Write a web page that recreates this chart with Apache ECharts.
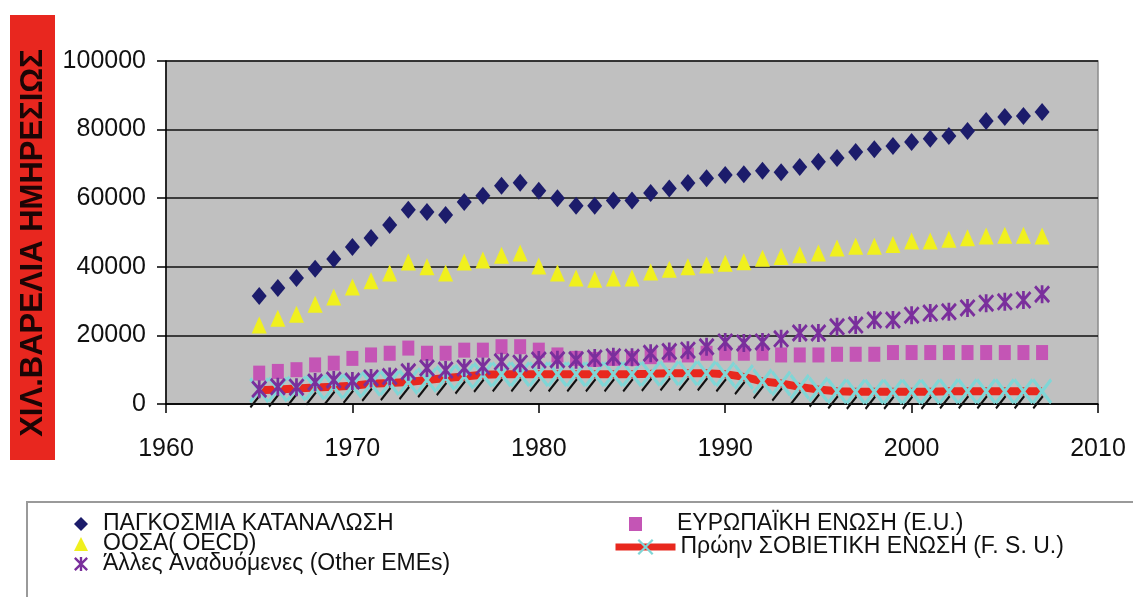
<!DOCTYPE html>
<html>
<head>
<meta charset="utf-8">
<script src="https://cdn.jsdelivr.net/npm/echarts@6/dist/echarts.min.js"></script>
<style>html,body{margin:0;padding:0;background:#fff;}#c{width:1133px;height:597px;}</style>
</head>
<body>
<div id="c"></div>
<script>
const years = [1965,1966,1967,1968,1969,1970,1971,1972,1973,1974,1975,1976,1977,1978,1979,1980,1981,1982,1983,1984,1985,1986,1987,1988,1989,1990,1991,1992,1993,1994,1995,1996,1997,1998,1999,2000,2001,2002,2003,2004,2005,2006,2007];
const world = [31500,33800,36700,39400,42300,45800,48400,52200,56600,56000,55100,58900,60700,63600,64500,62200,60000,57800,57800,59300,59300,61500,62800,64400,65800,66800,67000,68000,67600,69100,70600,71700,73500,74300,75200,76400,77300,78100,79600,82500,83700,84000,85100];
const oecd = [23000,25000,26200,29100,31200,34100,35900,38200,41400,40000,38200,41400,42000,43400,44000,40200,38200,36700,36400,36700,36700,38500,39300,40000,40500,41000,41500,42500,43000,43500,44000,45500,46000,46000,46500,47500,47500,48000,48500,49000,49200,49200,49000];
const emes = [4300,5000,4900,6400,7000,6700,7600,8000,9400,10500,9900,10500,10900,12300,11900,12800,12900,12900,13400,13800,13600,14800,15300,15700,16700,18100,17800,18100,19000,20700,20700,22500,23000,24500,24500,25900,26500,26900,28000,29400,29800,30300,32000];
const eu = [9000,9500,10000,11400,11900,13300,14300,14800,16300,14800,14800,15700,15700,16700,16700,15700,14300,13300,13000,13300,13300,13800,14300,14300,14800,14800,14800,14800,14300,14300,14300,14500,14500,14500,15000,15000,15000,15000,15000,15000,15000,15000,15000];
const fsu = [4000,4200,4500,4800,5000,5300,5900,6100,6400,7000,7600,8000,8500,8700,8700,8700,8700,8700,8700,8700,8700,8800,9000,9000,9000,8700,7900,6600,6000,5000,4200,3700,3600,3600,3600,3600,3600,3700,3700,3700,3700,3700,3700];
const xTicks = [1960,1970,1980,1990,2000,2010];
const yTicks = [0,20000,40000,60000,80000,100000];
const names = ['ΠΑΓΚΟΣΜΙΑ ΚΑΤΑΝΑΛΩΣΗ','ΟΟΣΑ( OECD)','Άλλες Αναδυόμενες (Other EMEs)','ΕΥΡΩΠΑΪΚΗ ΕΝΩΣΗ (E.U.)','Πρώην ΣΟΒΙΕΤΙΚΗ ΕΝΩΣΗ (F. S. U.)'];
const yTitle = 'ΧΙΛ.ΒΑΡΕΛΙΑ ΗΜΗΡΕΣΙΩΣ';

const pair = a => years.map((y,i)=>[y,a[i]]);
const FONT = '"Liberation Sans", Arial, sans-serif';
const ASTER = 'path://M8.3,0 L11.7,0 L11.7,20 L8.3,20 Z M0,2.4 L2.4,0 L20,17.6 L17.6,20 Z M17.6,0 L20,2.4 L2.4,20 L0,17.6 Z';
const XMARK = 'path://M0,2 L2,0 L20,18 L18,20 Z M18,0 L20,2 L2,20 L0,18 Z';
const SLASH = 'path://M0,17.5 L2.5,20 L20,2.5 L17.5,0 Z';

const chart = echarts.init(document.getElementById('c'), null, {renderer:'canvas'});
chart.setOption({
  animation:false,
  backgroundColor:'#ffffff',
  grid:{left:166,right:35,top:61,bottom:193,show:true,backgroundColor:'#c0c0c0',borderColor:'#8a8a8a',borderWidth:1.5},
  xAxis:{type:'value',min:xTicks[0],max:xTicks[xTicks.length-1],interval:10,
    axisLine:{show:true,onZero:false,lineStyle:{color:'#000',width:1.5}},
    axisTick:{show:true,length:9,lineStyle:{color:'#000',width:1.5}},
    splitLine:{show:false},
    axisLabel:{margin:33,fontSize:25,fontFamily:FONT,color:'#111',formatter:v=>String(v)}},
  yAxis:{type:'value',min:yTicks[0],max:yTicks[yTicks.length-1],interval:20000,
    axisLine:{show:true,lineStyle:{color:'#000',width:1.5}},
    axisTick:{show:true,length:9,lineStyle:{color:'#000',width:1.5}},
    splitLine:{show:true,lineStyle:{color:'#111',width:1.5}},
    axisLabel:{margin:20,fontSize:25,fontFamily:FONT,color:'#111',formatter:v=>String(v)}},
  legend:[
    {data:[names[0],names[1],names[2]],orient:'vertical',left:69,top:503,itemWidth:14,itemHeight:14,itemGap:-12,
     textStyle:{fontSize:23,fontFamily:FONT,color:'#111',lineHeight:20,padding:[0,0,12,10]}},
    {data:[names[3]],orient:'vertical',left:624,top:503,itemWidth:13,itemHeight:14,itemGap:0,
     textStyle:{fontSize:23,fontFamily:FONT,color:'#111',lineHeight:20,padding:[0,0,12,30]}},
    {data:[names[4]],orient:'vertical',left:607,top:524,itemWidth:60,itemHeight:20,itemGap:0,
     lineStyle:{width:7,color:'#e8281e'},
     textStyle:{fontSize:23,fontFamily:FONT,color:'#111',lineHeight:20,padding:[0,0,16,0]}}
  ],
  graphic:[
    {type:'rect',left:10,top:15,shape:{width:45,height:445},style:{fill:'#e8271f'},z:10},
    {type:'text',x:33,y:243,rotation:Math.PI/2,z:11,style:{text:yTitle,align:'center',verticalAlign:'middle',font:'bold 31px "Liberation Sans", Arial, sans-serif',fill:'#1a0505'}},
    {type:'rect',shape:{x:27,y:502,width:1200,height:200},style:{fill:'none',stroke:'#9a9a9a',lineWidth:2},z:0}
  ],
  series:[
    {name:names[0],type:'scatter',data:pair(world),symbol:'diamond',symbolSize:[15,18],itemStyle:{color:'#1c1c6b',opacity:1},z:5},
    {name:names[1],type:'scatter',data:pair(oecd),symbol:'triangle',symbolSize:[15,17],itemStyle:{color:'#f0f01e',opacity:1},z:5},
    {name:names[3],type:'scatter',data:pair(eu),symbol:'rect',symbolSize:[12,15],itemStyle:{color:'#c455b5',opacity:1},z:4},
    {name:names[4],type:'line',data:pair(fsu),symbol:XMARK,symbolSize:[20,26],showSymbol:true,
      lineStyle:{color:'#e8281e',width:8},itemStyle:{color:'#7fd6d6',opacity:1},z:3},
    {name:'fsu-slash',type:'scatter',data:pair(fsu),symbol:SLASH,symbolSize:[11,14],symbolOffset:[-4,11],itemStyle:{color:'#111',opacity:1},z:2},
    {name:names[2],type:'scatter',data:pair(emes),symbol:ASTER,symbolSize:[16,18],itemStyle:{color:'#7a2f9c',opacity:1},z:6}
  ]
});
</script>
</body>
</html>
